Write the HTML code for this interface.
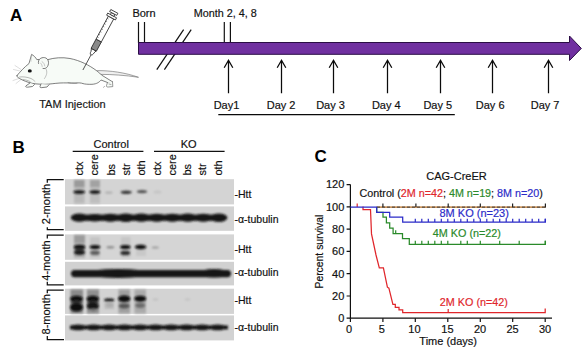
<!DOCTYPE html>
<html><head><meta charset="utf-8">
<style>
html,body{margin:0;padding:0;background:#fff;}
body{width:582px;height:354px;overflow:hidden;}
svg{display:block;}
text{font-family:"Liberation Sans",sans-serif;stroke:#111;stroke-width:0.18px;}
text.nb{stroke:none;}
tspan.r,text.r{stroke:#e0262b;} tspan.g,text.g{stroke:#2a8a2a;} tspan.bl,text.bl{stroke:#2b2bc8;}
</style></head>
<body>
<svg width="582" height="354" viewBox="0 0 582 354">
<defs>
<filter id="b08" x="-50%" y="-50%" width="200%" height="200%"><feGaussianBlur stdDeviation="0.8"/></filter>
<filter id="b1" x="-50%" y="-50%" width="200%" height="200%"><feGaussianBlur stdDeviation="1"/></filter>
<filter id="b2" x="-50%" y="-50%" width="200%" height="200%"><feGaussianBlur stdDeviation="1.6"/></filter>
<filter id="b3" x="-50%" y="-50%" width="200%" height="200%"><feGaussianBlur stdDeviation="2.5"/></filter>
</defs>
<rect width="582" height="354" fill="#fff"/>

<!-- ============ PANEL A ============ -->
<text x="10" y="20.7" font-size="17" font-weight="bold" fill="#000" class="nb">A</text>

<!-- mouse -->
<g fill="none" stroke="#555" stroke-width="0.75" stroke-linejoin="round" stroke-linecap="round">
  <!-- tail -->
  <path d="M97.5,70.6 C110,70.5 125,72.5 138.5,77.3 C125,75.2 112,74.4 100.5,74.4" fill="#f0f0f0" stroke="#666" stroke-width="0.6"/>
  <!-- body -->
  <path d="M17.2,75.3 C20,72 24,67.5 29,63.5 L31.6,54.4 C33.5,55.3 35.8,57.5 36.8,59.6 C40,59.5 44,58.8 48,59.6 C54,57.8 62,57 70,58.5 C80,60.5 89,65 97,71 C99,72.5 100.5,73.8 101.5,75 L112.5,81.8 C111,83.5 109,83 107.5,82.5 L101,80 C99.5,82 97,84 92,84.3 C88,84.4 85,84.2 83,83.6 C81,82.8 79,82.8 76,83 C70,83 64,82.8 60,83 C54,83.4 50,84.2 45,84.3 C38,84.3 33,83.8 29,82.5 C24,81 20,79 18,77.5 C16.8,76.8 16.8,75.8 17.2,75.3 Z" fill="#f7fbf7"/>
  <!-- pointed ear inner -->
  <path d="M31.6,55.5 L31,61.5" stroke="#aaa" stroke-width="0.4"/>
  <!-- round ear -->
  <path d="M38.5,63.5 C37.5,59.5 41,57.2 44.5,57.6 C48.5,58.2 49.5,63 47.5,66.5 C46.5,68.2 44.5,69 43,68.5" fill="#f7fbf7"/>
  <path d="M42,61.5 C43.5,62.5 44.5,64 44.8,66 M40.5,63 C41.5,64 42,65 42.2,66.5" stroke="#888" stroke-width="0.45"/>
  <!-- cheek -->
  <path d="M46,69 C47.5,71.5 47,75 44.5,78.5" stroke="#888" stroke-width="0.5"/>
  <!-- mouth / jaw -->
  <path d="M19.5,77 C23,76.5 27,77 31,78.5 C33,79.5 34,80.5 35,81.5 M23,79.5 C26,80 28.5,80.5 30,81.5" stroke="#777" stroke-width="0.5"/>
  <!-- whiskers -->
  <path d="M21,69.5 L15,65.5 M20,71 L13.5,69.5 M19,78.5 L13,80.5 M21,79.5 L16,83.5" stroke="#aaa" stroke-width="0.4"/>
  <!-- front feet -->
  <path d="M30,83 L26,85.8 C25,86.5 26,87.3 27.5,87.2 L32.5,86.5 L34.5,84.5" fill="#f7fbf7"/>
  <path d="M41,84 L40,86.5 C39.5,87.3 40.5,87.8 42,87.6 L47,87 L49,84.8" fill="#f7fbf7"/>
  <!-- belly detail -->
  <path d="M68,82.6 C71,83.5 74,83.6 77,83.2" stroke="#777" stroke-width="0.6"/>
  <!-- hind leg -->
  <path d="M107.5,82.5 L106.5,85.5 C106,86.5 107,87.2 108.5,87 L112.8,86.6 L112.5,81.8" fill="#f7fbf7" stroke-width="0.6"/>
  <path d="M104.5,86.5 L103.5,87.3 M109,84 L111,84.5" stroke-width="0.5"/>
</g>
<ellipse cx="29.8" cy="70.9" rx="2" ry="1.6" fill="#111"/>

<!-- syringe -->
<g transform="translate(82.9,70) rotate(-61.8)" stroke="#222" stroke-width="0.75">
  <line x1="0" y1="0" x2="17.4" y2="0" stroke-width="0.7"/>
  <path d="M17.4,-0.9 C18.5,-1.6 19.5,-1.8 20,-1.6 L23,-2.6 L23,2.6 L20,1.6 C19.5,1.8 18.5,1.6 17.4,0.9 Z" fill="#fff"/>
  <rect x="23" y="-3" width="10.5" height="6" fill="#8a8a8a"/>
  <rect x="33.5" y="-3" width="26" height="6" fill="#fff"/>
  <path d="M36,-3 v1.5 M39,-3 v1.5 M42,-3 v1.5 M45,-3 v1.5 M48,-3 v1.5 M51,-3 v1.5 M54,-3 v1.5 M57,-3 v1.5" stroke-width="0.45"/>
  <rect x="59.5" y="-5" width="2.4" height="10" fill="#fff"/>
  <rect x="61.9" y="-2" width="2.2" height="4" fill="#fff"/>
  <rect x="64.1" y="-4" width="2.4" height="8" fill="#fff"/>
</g>

<text x="39.2" y="108.1" font-size="11" fill="#222">TAM Injection</text>

<!-- timeline -->
<g stroke="#111" stroke-width="1.2">
  <line x1="138.5" y1="22" x2="138.5" y2="43"/>
  <line x1="144.5" y1="22" x2="144.5" y2="43"/>
  <line x1="224.3" y1="22" x2="224.3" y2="43"/>
  <line x1="230.4" y1="22" x2="230.4" y2="43"/>
  <line x1="156.8" y1="69.7" x2="183.6" y2="29.7"/>
  <line x1="164.4" y1="69.7" x2="191.2" y2="29.7"/>
</g>
<path d="M138.5,42.5 L569.5,42.5 L569.5,36 L581.3,48.4 L569.5,60.5 L569.5,54.3 L138.5,54.3 Z" fill="#7030a0" stroke="#2a0d45" stroke-width="1"/>
<text x="132.4" y="16.9" font-size="11" fill="#111">Born</text>
<text x="193.8" y="17" font-size="10.8" fill="#111">Month 2, 4, 8</text>

<g stroke="#0a0a0a" stroke-width="1.25" fill="none">
  <path d="M228.5,93.3 V60.8 M224.2,67.8 L228.5,60.2 L232.8,67.8"/>
  <path d="M281.5,93.3 V60.8 M277.2,67.8 L281.5,60.2 L285.8,67.8"/>
  <path d="M333.5,93.3 V60.8 M329.2,67.8 L333.5,60.2 L337.8,67.8"/>
  <path d="M387.5,93.3 V60.8 M383.2,67.8 L387.5,60.2 L391.8,67.8"/>
  <path d="M440.5,93.3 V60.8 M436.2,67.8 L440.5,60.2 L444.8,67.8"/>
  <path d="M492.5,93.3 V60.8 M488.2,67.8 L492.5,60.2 L496.8,67.8"/>
  <path d="M548.5,93.3 V60.8 M544.2,67.8 L548.5,60.2 L552.8,67.8"/>
  <line x1="218.3" y1="114.5" x2="454.8" y2="114.5"/>
</g>
<g font-size="11" fill="#111" text-anchor="middle">
  <text x="226.5" y="109.2">Day1</text>
  <text x="281.1" y="109.2">Day 2</text>
  <text x="330.5" y="109.2">Day 3</text>
  <text x="386.3" y="109.2">Day 4</text>
  <text x="437.8" y="109.2">Day 5</text>
  <text x="490.2" y="109.2">Day 6</text>
  <text x="545.1" y="109.2">Day 7</text>
</g>

<!-- ============ PANEL B ============ -->
<text x="12.5" y="152.6" font-size="17" font-weight="bold" fill="#000" class="nb">B</text>
<g font-size="11" fill="#111" text-anchor="middle">
  <text x="111.2" y="147.7">Control</text>
  <text x="188.6" y="147.7">KO</text>
</g>
<g stroke="#111" stroke-width="1.3">
  <line x1="72.7" y1="151.3" x2="143.4" y2="151.3"/>
  <line x1="154" y1="151.3" x2="224.6" y2="151.3"/>
</g>
<g font-size="11" fill="#111">
  <text transform="translate(82.5,175.6) rotate(-90)">ctx</text>
  <text transform="translate(98.2,175.6) rotate(-90)">cere</text>
  <text transform="translate(115.3,175.6) rotate(-90)">bs</text>
  <text transform="translate(130,175.6) rotate(-90)">str</text>
  <text transform="translate(145.4,175.6) rotate(-90)">oth</text>
  <text transform="translate(160.5,175.6) rotate(-90)">ctx</text>
  <text transform="translate(175.5,175.6) rotate(-90)">cere</text>
  <text transform="translate(191.4,175.6) rotate(-90)">bs</text>
  <text transform="translate(206,175.6) rotate(-90)">str</text>
  <text transform="translate(222.3,175.6) rotate(-90)">oth</text>
</g>

<g id="blotbg">
<rect x="65" y="179.2" width="169" height="25.2" fill="#d4d4d4"/>
<rect x="65" y="206.4" width="169" height="24.4" fill="#d2d2d2"/>
<rect x="65" y="234.4" width="169" height="25.4" fill="#d5d5d5"/>
<rect x="65" y="261.8" width="169" height="23.6" fill="#d1d1d1"/>
<rect x="65" y="288.7" width="169" height="25.2" fill="#d3d3d3"/>
<rect x="65" y="315.4" width="169" height="25.0" fill="#d2d2d2"/>
</g>
<g filter="url(#b1)">
<rect x="74" y="180" width="10.5" height="23.5" fill="#b9b9b9"/>
<rect x="90" y="180" width="10" height="23.5" fill="#bebebe"/>
<rect x="74" y="180" width="10.5" height="7" fill="#9a9a9a"/>
<rect x="90" y="180" width="10" height="7" fill="#a2a2a2"/>
</g><g filter="url(#b08)">
<ellipse cx="79.2" cy="192" rx="6" ry="1.8" fill="#121212"/>
<ellipse cx="94.9" cy="192" rx="5.6" ry="1.8" fill="#151515"/>
<ellipse cx="108.8" cy="192.6" rx="4" ry="1.2" fill="#adadad"/>
<ellipse cx="126.2" cy="192.3" rx="5.6" ry="1.8" fill="#3a3a3a"/>
<ellipse cx="142" cy="191.6" rx="5.2" ry="1.6" fill="#505050"/>
<ellipse cx="157.5" cy="192" rx="4" ry="1.5" fill="#c4c4c4"/>
</g>
<g filter="url(#b08)">
<rect x="74" y="214.6" width="150" height="6.2" fill="#151515"/>
<ellipse cx="79.3" cy="217.7" rx="8.6" ry="4.1" fill="#151515"/>
<ellipse cx="94.8" cy="217.7" rx="8.6" ry="3.8" fill="#151515"/>
<ellipse cx="110.3" cy="217.7" rx="8.6" ry="4.0" fill="#151515"/>
<ellipse cx="125.8" cy="217.7" rx="8.6" ry="4.2" fill="#151515"/>
<ellipse cx="141.3" cy="217.7" rx="8.6" ry="4.1" fill="#151515"/>
<ellipse cx="156.8" cy="217.7" rx="8.6" ry="4.0" fill="#151515"/>
<ellipse cx="172.3" cy="217.7" rx="8.6" ry="4.0" fill="#151515"/>
<ellipse cx="187.8" cy="217.7" rx="8.6" ry="4.1" fill="#151515"/>
<ellipse cx="203.3" cy="217.7" rx="8.6" ry="4.0" fill="#151515"/>
<ellipse cx="218.8" cy="217.7" rx="8.6" ry="4.2" fill="#151515"/>
</g>
<g filter="url(#b1)">
<rect x="74" y="235" width="11" height="23" fill="#b2b2b2"/>
<rect x="74" y="235" width="11" height="8" fill="#9c9c9c"/>
<rect x="90" y="237" width="10" height="21" fill="#c4c4c4"/>
<rect x="121" y="237" width="9.5" height="21" fill="#c6c6c6"/>
<rect x="136" y="243" width="10" height="13" fill="#c8c8c8"/>
</g><g filter="url(#b08)">
<ellipse cx="79.5" cy="247" rx="5.8" ry="2.3" fill="#0e0e0e"/>
<ellipse cx="79.5" cy="249.6" rx="5.2" ry="1.4" fill="#3a3a3a"/>
<ellipse cx="79.5" cy="252.5" rx="5.6" ry="2.4" fill="#1e1e1e"/>
<ellipse cx="95" cy="247" rx="5.5" ry="2.1" fill="#0e0e0e"/>
<ellipse cx="95" cy="252.8" rx="4.8" ry="2.3" fill="#5e5e5e"/>
<ellipse cx="110.4" cy="247.2" rx="4" ry="1.3" fill="#8e8e8e"/>
<ellipse cx="125.3" cy="247" rx="5.3" ry="2.1" fill="#0e0e0e"/>
<ellipse cx="125.3" cy="253" rx="4.9" ry="2.2" fill="#2e2e2e"/>
<ellipse cx="140.6" cy="247" rx="5.9" ry="2.2" fill="#0e0e0e"/>
<ellipse cx="155.3" cy="247.5" rx="3.6" ry="1" fill="#9a9a9a"/>
</g>
<g filter="url(#b08)">
<rect x="71" y="270" width="160" height="7.2" rx="3.6" fill="#141414"/>
<ellipse cx="118" cy="273.4" rx="32" ry="4.5" fill="#141414"/>
<ellipse cx="214" cy="273.3" rx="15" ry="4.3" fill="#141414"/>
</g>
<g filter="url(#b1)">
<rect x="70.5" y="289.5" width="12.5" height="24" fill="#8a8a8a"/>
<rect x="87" y="289.5" width="12" height="24" fill="#909090"/>
<rect x="104.5" y="302" width="9.5" height="7" fill="#bcbcbc"/>
<rect x="118.5" y="289.5" width="11.5" height="24" fill="#a0a0a0"/>
<rect x="134.5" y="289.5" width="11.5" height="24" fill="#aaaaaa"/>
</g><g filter="url(#b08)">
<ellipse cx="76.5" cy="298.8" rx="6.5" ry="3" fill="#0e0e0e"/>
<ellipse cx="76.5" cy="302.3" rx="5.8" ry="1.5" fill="#333"/>
<ellipse cx="76.5" cy="307.2" rx="6.5" ry="4.3" fill="#0c0c0c"/>
<ellipse cx="92.8" cy="298.8" rx="6.3" ry="3" fill="#0e0e0e"/>
<ellipse cx="92.8" cy="302.3" rx="5.8" ry="1.5" fill="#333"/>
<ellipse cx="92.8" cy="306" rx="6.1" ry="3.5" fill="#141414"/>
<ellipse cx="93.3" cy="310" rx="2.5" ry="1.6" fill="#777"/>
<ellipse cx="109.2" cy="299.9" rx="5.2" ry="1.6" fill="#1a1a1a"/>
<ellipse cx="109.5" cy="305" rx="3.5" ry="1.6" fill="#a8a8a8"/>
<ellipse cx="124.2" cy="298.7" rx="6.2" ry="3.2" fill="#0e0e0e"/>
<ellipse cx="124.2" cy="306" rx="5.4" ry="2.6" fill="#555"/>
<ellipse cx="140.2" cy="298.7" rx="6" ry="3" fill="#111"/>
<ellipse cx="140.2" cy="305.5" rx="4.8" ry="2.4" fill="#6a6a6a"/>
<ellipse cx="155.5" cy="299.5" rx="3" ry="1" fill="#bdbdbd"/>
<ellipse cx="187.5" cy="299.5" rx="3" ry="1" fill="#c0c0c0"/>
</g>
<g filter="url(#b08)">
<rect x="70" y="325.5" width="158" height="3.8" fill="#121212"/>
<ellipse cx="78.1" cy="327.4" rx="7.9" ry="2.9" fill="#121212"/>
<ellipse cx="93.6" cy="327.4" rx="7.9" ry="2.9" fill="#121212"/>
<ellipse cx="109.1" cy="327.4" rx="7.9" ry="2.9" fill="#121212"/>
<ellipse cx="124.6" cy="327.4" rx="7.9" ry="2.9" fill="#121212"/>
<ellipse cx="140.1" cy="327.4" rx="7.9" ry="2.9" fill="#121212"/>
<ellipse cx="155.6" cy="327.4" rx="7.9" ry="2.9" fill="#121212"/>
<ellipse cx="171.1" cy="327.4" rx="7.9" ry="2.9" fill="#121212"/>
<ellipse cx="186.6" cy="327.4" rx="7.9" ry="2.9" fill="#121212"/>
<ellipse cx="202.1" cy="327.4" rx="7.9" ry="2.9" fill="#121212"/>
<ellipse cx="217.6" cy="327.4" rx="7.9" ry="2.9" fill="#121212"/>
</g>
<!-- brackets -->
<g stroke="#111" stroke-width="1.25" fill="none">
  <path d="M63.7,179.6 H47.3 V182.8"/>
  <path d="M47.3,227.2 V229.6 H63.7"/>
  <path d="M63.7,235 H47.3 V238.5"/>
  <path d="M47.3,281.8 V284.9 H63.7"/>
  <path d="M63.7,290 H47.3 V293.3"/>
  <path d="M47.3,336 V339.5 H64"/>
</g>
<g font-size="11" fill="#111" text-anchor="middle">
  <text transform="translate(49.6,204) rotate(-90)">2-month</text>
  <text transform="translate(49.8,260.5) rotate(-90)">4-month</text>
  <text transform="translate(49.8,314.3) rotate(-90)">8-month</text>
</g>
<g font-size="10.5" fill="#111">
  <text x="234.5" y="197.7">-Htt</text>
  <text x="234.5" y="223">-α-tubulin</text>
  <text x="234.5" y="252.6">-Htt</text>
  <text x="234.5" y="275.8">-α-tubulin</text>
  <text x="234.5" y="304.4">-Htt</text>
  <text x="234.5" y="331.2">-α-tubulin</text>
</g>

<!-- ============ PANEL C ============ -->
<text x="314.5" y="161.7" font-size="17" font-weight="bold" fill="#000" class="nb">C</text>
<text x="456.5" y="180.4" font-size="11" fill="#111" text-anchor="middle">CAG-CreER</text>
<text x="359.6" y="197.1" font-size="10.75" fill="#111">Control (<tspan class="r" fill="#e0262b">2M n=42</tspan>; <tspan class="g" fill="#2a8a2a">4M n=19</tspan>; <tspan class="bl" fill="#2b2bc8">8M n=20</tspan>)</text>

<!-- axes -->
<g stroke="#111" stroke-width="1.2" fill="none">
  <path d="M350.4,184.6 V318.2 H552"/>
  <path d="M346.6,184.6 H350.4 M346.6,206.9 H350.4 M346.6,229.2 H350.4 M346.6,251.4 H350.4 M346.6,273.7 H350.4 M346.6,296 H350.4 M346.6,318.2 H350.4"/>
  <path d="M350.4,318.2 V322 M382.9,318.2 V322 M415.3,318.2 V322 M447.8,318.2 V322 M480.3,318.2 V322 M512.7,318.2 V322 M545.2,318.2 V322"/>
</g>
<g font-size="11" fill="#111" text-anchor="end">
  <text x="344.3" y="188.4">120</text>
  <text x="344.3" y="210.7">100</text>
  <text x="344.3" y="233">80</text>
  <text x="344.3" y="255.2">60</text>
  <text x="344.3" y="277.5">40</text>
  <text x="344.3" y="299.8">20</text>
  <text x="344.3" y="322">0</text>
</g>
<g font-size="11" fill="#111" text-anchor="middle">
  <text x="349" y="332.5">0</text>
  <text x="381.7" y="332.5">5</text>
  <text x="414.4" y="332.5">10</text>
  <text x="447.4" y="332.5">15</text>
  <text x="480" y="332.5">20</text>
  <text x="512.5" y="332.5">25</text>
  <text x="545" y="332.5">30</text>
</g>
<text x="448.2" y="344.7" font-size="11" fill="#111" text-anchor="middle">Time (days)</text>
<text transform="translate(322.8,251.6) rotate(-90)" font-size="10.4" fill="#111" text-anchor="middle">Percent survival</text>

<!-- curves -->
<g fill="none" stroke-width="1.25">
  <!-- control dashed -->
  <line x1="376.7" y1="207" x2="545.5" y2="207" stroke="#e8892a"/>
  <line x1="376.7" y1="207" x2="545.5" y2="207" stroke="#444" stroke-dasharray="3.6,1.4"/>
  <path d="M382.9,207 V203.6 M415.9,207 V203.6 M448.2,207 V203.6 M480.3,207 V203.6 M512.6,207 V203.6 M545.4,207.6 V203.6" stroke="#222" stroke-width="1.2"/>
  <!-- red 2M KO -->
  <path d="M362.5,207 H363 V209.5 H370.5 L371.5,233.9 L376,255 L379.3,267.9 H383.4 L387.4,287.2 L388.9,288.1 L392.9,304.3 H395.3 V307.4 H399 V309.8 H402.7 V312.6 H545.2 V308.6" stroke="#e0262b"/>
  <path d="M357.2,207 V203.6 M448.2,312.6 V309" stroke="#e0262b" stroke-width="1.2"/>
  <!-- green 4M KO -->
  <path d="M376.7,207 V212.3 H383 V217.1 H386.4 V222.9 H389.7 V228 H393.1 V233.6 H402.5 V238.7 H409.3 V244.3 H545.4 V240.8" stroke="#2a8a2a"/>
  <path d="M395.7,233.6 V230.2 M415.3,244.3 V240.8 M421.8,244.3 V240.8 M428.3,244.3 V240.8 M434.8,244.3 V240.8 M441.3,244.3 V240.8 M447.8,244.3 V240.8 M460.8,244.3 V240.8 M467.3,244.3 V240.8 M480.3,244.3 V240.8 M499.7,244.3 V240.8 M519.2,244.3 V240.8 M545.2,244.3 V240.8" stroke="#2a8a2a" stroke-width="1.2"/>
  <!-- blue 8M KO -->
  <path d="M350.4,207 H376.7 V212.3 H389.7 V217.1 H402.7 V222 H545.4 V218.8" stroke="#2b2bc8"/>
  <path d="M415.3,222 V218.8 M421.8,222 V218.8 M428.3,222 V218.8 M434.8,222 V218.8 M441.3,222 V218.8 M447.8,222 V218.8 M454.3,222 V218.8 M460.8,222 V218.8 M467.3,222 V218.8 M473.8,222 V218.8 M480.3,222 V218.8 M486.8,222 V218.8 M493.2,222 V218.8 M499.7,222 V218.8 M506.2,222 V218.8 M512.7,222 V218.8 M519.2,222 V218.8 M525.7,222 V218.8 M532.2,222 V218.8 M538.7,222 V218.8 M545.2,222 V218.8" stroke="#2b2bc8" stroke-width="1.2"/>
</g>
<text x="439.5" y="216.8" font-size="11" class="bl" fill="#2b2bc8">8M KO (n=23)</text>
<text x="432.8" y="237.2" font-size="10.8" class="g" fill="#2a8a2a">4M KO (n=22)</text>
<text x="439.8" y="306.2" font-size="10.8" class="r" fill="#e0262b">2M KO (n=42)</text>

</svg>
</body></html>
